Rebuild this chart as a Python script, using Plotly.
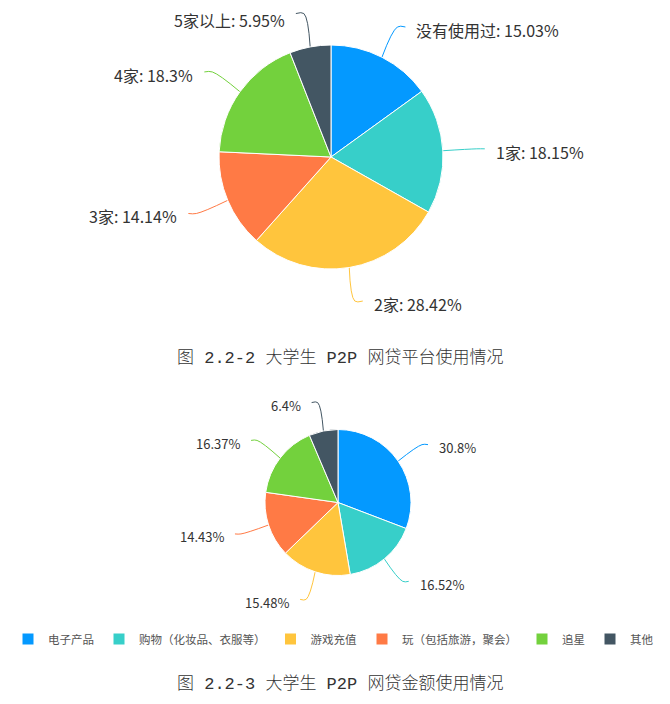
import math

import plotly.graph_objects as go

# figure 2.2-2: number of P2P platforms used
platform_labels = ["没有使用过", "1家", "2家", "3家", "4家", "5家以上"]
platform_values = [15.03, 18.15, 28.42, 14.14, 18.3, 5.95]

# figure 2.2-3: what the loan money is used for
usage_labels = ["电子产品", "购物（化妆品、衣服等）", "游戏充值", "玩（包括旅游，聚会）", "追星", "其他"]
usage_values = [30.8, 16.52, 15.48, 14.43, 16.37, 6.4]

caption_top = "图 2.2-2 大学生 P2P 网贷平台使用情况"
caption_bottom = "图 2.2-3 大学生 P2P 网贷金额使用情况"

colors = ["#0499ff", "#37cfc9", "#ffc53d", "#ff7a45", "#73d13d", "#435663"]

W, H = 670, 704
OFF = 8  # page body margin, positions below are in window pixels
LABEL_FONT = "Noto Sans CJK SC"


def domain(cx, cy, r):
    cx, cy = cx - OFF, cy - OFF
    return dict(x=[(cx - r) / W, (cx + r) / W], y=[1 - (cy + r) / H, 1 - (cy - r) / H])


def leader_lines(fig, cx, cy, r, labels, values, l1, l2, size, with_name):
    total = sum(values)
    cum = 0
    for i, v in enumerate(values):
        a = (cum + v / 2) / total * 2 * math.pi
        cum += v
        s, c = math.sin(a), math.cos(a)
        x0, y0 = cx + r * s, cy - r * c
        x1, y1 = cx + (r + l1) * s, cy - (r + l1) * c
        side = 1 if s >= 0 else -1
        x2 = x1 + side * l2
        fig.add_trace(go.Scatter(
            x=[x0, x1, x2], y=[y0, y1, y1], mode="lines",
            line=dict(color=colors[i], width=1, shape="spline", smoothing=1),
            showlegend=False, hoverinfo="skip",
        ))
        txt = f"{labels[i]}: {v:g}%" if with_name else f"{v:g}%"
        # keep the label box inside the page
        ty = max(y1 + 3, OFF + size * 0.75)
        fig.add_annotation(
            x=x2 + side * 9, y=ty, xref="x", yref="y", text=txt, showarrow=False,
            xanchor="left" if side > 0 else "right", yanchor="middle",
            font=dict(family=LABEL_FONT, size=size, color="#333333"),
        )


fig = go.Figure()

fig.add_trace(go.Pie(
    labels=platform_labels, values=platform_values, sort=False, direction="clockwise",
    marker=dict(colors=colors, line=dict(color="white", width=1)),
    textinfo="none", showlegend=False, domain=domain(331, 157, 112),
))

fig.add_trace(go.Pie(
    labels=usage_labels, values=usage_values, sort=False, direction="clockwise",
    marker=dict(colors=colors, line=dict(color="white", width=1)),
    textinfo="none", showlegend=True, domain=domain(338, 502.5, 73),
))

leader_lines(fig, 331, 157, 112, platform_labels, platform_values, 34, 8, 16, True)
leader_lines(fig, 338, 502.5, 73, usage_labels, usage_values, 29, 6, 13, False)

for txt, y in [(caption_top, 358), (caption_bottom, 684)]:
    fig.add_annotation(
        x=340, y=y, xref="x", yref="y", text=txt, showarrow=False,
        xanchor="center", yanchor="middle",
        font=dict(family="Liberation Mono, Noto Sans CJK SC", size=17, color="#333333", weight=300),
    )

fig.update_layout(
    width=W, height=H,
    margin=dict(l=0, r=0, t=0, b=0),
    paper_bgcolor="white", plot_bgcolor="white",
    xaxis=dict(range=[OFF, W + OFF], visible=False, fixedrange=True),
    yaxis=dict(range=[H + OFF, OFF], visible=False, fixedrange=True),
    legend=dict(
        orientation="h", x=0, y=1 - (639 - OFF) / H, xanchor="left", yanchor="middle",
        font=dict(family=LABEL_FONT, size=11.5, color="#555555"),
        traceorder="normal",
    ),
)

fig.write_html("out.html")
